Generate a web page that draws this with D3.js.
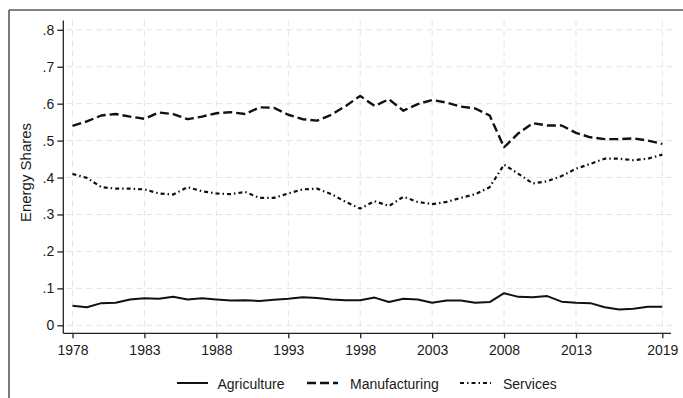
<!DOCTYPE html>
<html>
<head>
<meta charset="utf-8">
<script src="https://cdn.jsdelivr.net/npm/d3@7/dist/d3.min.js"></script>
<style>
  html, body { margin: 0; padding: 0; background: #fff; }
  svg { display: block; font-family: "Liberation Sans", Arial, sans-serif; }
</style>
</head>
<body>
<svg id="chart" width="683" height="398"></svg>
<script>
// Energy shares by sector, 1978-2019
const years = [1978, 1979, 1980, 1981, 1982, 1983, 1984, 1985, 1986, 1987,
  1988, 1989, 1990, 1991, 1992, 1993, 1994, 1995, 1996, 1997,
  1998, 1999, 2000, 2001, 2002, 2003, 2004, 2005, 2006, 2007,
  2008, 2009, 2010, 2011, 2012, 2013, 2014, 2015, 2016, 2017,
  2018, 2019];

const agriculture = [0.053, 0.049, 0.060, 0.061, 0.070, 0.073, 0.072, 0.077, 0.070, 0.073,
  0.070, 0.067, 0.068, 0.066, 0.069, 0.072, 0.076, 0.074, 0.070, 0.068,
  0.068, 0.075, 0.063, 0.072, 0.070, 0.061, 0.067, 0.067, 0.061, 0.063,
  0.087, 0.077, 0.076, 0.079, 0.064, 0.061, 0.060, 0.049, 0.043, 0.045,
  0.050, 0.050];

const manufacturing = [0.540, 0.552, 0.568, 0.572, 0.565, 0.559, 0.576, 0.572, 0.558, 0.565,
  0.574, 0.577, 0.572, 0.590, 0.589, 0.570, 0.558, 0.554, 0.570, 0.594,
  0.621, 0.594, 0.612, 0.581, 0.599, 0.610, 0.603, 0.592, 0.587, 0.568,
  0.482, 0.520, 0.547, 0.541, 0.541, 0.521, 0.509, 0.504, 0.504, 0.506,
  0.500, 0.491];

const services = [0.410, 0.399, 0.374, 0.370, 0.370, 0.368, 0.357, 0.354, 0.374, 0.363,
  0.357, 0.355, 0.361, 0.345, 0.345, 0.357, 0.368, 0.370, 0.355, 0.334,
  0.316, 0.336, 0.323, 0.348, 0.334, 0.328, 0.334, 0.345, 0.355, 0.374,
  0.435, 0.410, 0.384, 0.390, 0.404, 0.424, 0.437, 0.451, 0.451, 0.447,
  0.451, 0.462];

const xTickYears = [1978, 1983, 1988, 1993, 1998, 2003, 2008, 2013, 2019];
const yTickValues = [0, 0.1, 0.2, 0.3, 0.4, 0.5, 0.6, 0.7, 0.8];
const yTickLabels = ["0", ".1", ".2", ".3", ".4", ".5", ".6", ".7", ".8"];

const seriesNames = ["Agriculture", "Manufacturing", "Services"];
const seriesData = [agriculture, manufacturing, services];
const seriesDash = [null, "9,4", "4,3,1.5,3"];
const seriesWidth = [2, 2.4, 2.2];

const svg = d3.select("#chart");
const W = 683, H = 398;

// plot region (axes sit slightly outside the data range)
const plot = { left: 63.3, right: 671, top: 20.5, bottom: 333.3 };

const x = d3.scaleLinear().domain([1978, 2019]).range([72.5, 662.3]);
const y = d3.scaleLinear().domain([0, 0.8]).range([325.3, 29.8]);

// outer frame: top and left edges
svg.append("line").attr("x1", 9).attr("x2", W).attr("y1", 10).attr("y2", 10)
  .attr("stroke", "#5a5a5a").attr("stroke-width", 1.6);
svg.append("line").attr("x1", 9).attr("x2", 9).attr("y1", 10).attr("y2", H)
  .attr("stroke", "#5a5a5a").attr("stroke-width", 1.6);

// gridlines
const grid = svg.append("g").attr("stroke", "#e4e4e4").attr("stroke-width", 1)
  .attr("stroke-dasharray", "6,4").attr("fill", "none");
yTickValues.forEach(v => {
  grid.append("line").attr("x1", plot.left + 3).attr("x2", plot.right + 2)
    .attr("y1", y(v)).attr("y2", y(v));
});
xTickYears.forEach(yr => {
  grid.append("line").attr("x1", x(yr)).attr("x2", x(yr))
    .attr("y1", plot.top).attr("y2", plot.bottom);
});

// y axis
const yAxis = d3.axisLeft(y).tickValues(yTickValues)
  .tickFormat((d, i) => yTickLabels[i]).tickSize(6).tickPadding(3).tickSizeOuter(0);
const gy = svg.append("g").attr("transform", `translate(${plot.left},0)`).call(yAxis);
gy.select(".domain").remove();
gy.append("line").attr("x1", 0).attr("x2", 0).attr("y1", plot.top).attr("y2", plot.bottom)
  .attr("stroke", "#222").attr("stroke-width", 1.3);
gy.selectAll(".tick line").attr("stroke", "#222").attr("stroke-width", 1.3);
gy.selectAll(".tick text").attr("font-size", 14).attr("fill", "#1a1a1a")
  .attr("font-family", "Liberation Sans, Arial, sans-serif");

// x axis
const xAxis = d3.axisBottom(x).tickValues(xTickYears)
  .tickFormat(d => String(d)).tickSize(5).tickPadding(7).tickSizeOuter(0);
const gx = svg.append("g").attr("transform", `translate(0,${plot.bottom})`).call(xAxis);
gx.select(".domain").remove();
gx.append("line").attr("x1", plot.left).attr("x2", plot.right).attr("y1", 0).attr("y2", 0)
  .attr("stroke", "#222").attr("stroke-width", 1.3);
gx.selectAll(".tick line").attr("stroke", "#222").attr("stroke-width", 1.3);
gx.selectAll(".tick text").attr("font-size", 14).attr("fill", "#1a1a1a")
  .attr("font-family", "Liberation Sans, Arial, sans-serif");

// y axis title
svg.append("text")
  .attr("transform", `translate(31,172.5) rotate(-90)`)
  .attr("text-anchor", "middle")
  .attr("font-size", 15).attr("fill", "#1a1a1a")
  .text("Energy Shares");

// series lines
const line = d3.line().x((d, i) => x(years[i])).y(d => y(d));
seriesData.forEach((data, k) => {
  svg.append("path").datum(data)
    .attr("d", line)
    .attr("fill", "none")
    .attr("stroke", "#111")
    .attr("stroke-width", seriesWidth[k])
    .attr("stroke-linejoin", "round")
    .attr("stroke-dasharray", seriesDash[k]);
});

// legend
const legendItems = [
  { sx: 177, tx: 217.5 },
  { sx: 307, tx: 350 },
  { sx: 460, tx: 503 }
];
const legendY = 383;
legendItems.forEach((it, k) => {
  svg.append("line").attr("x1", it.sx).attr("x2", it.sx + 31)
    .attr("y1", legendY).attr("y2", legendY)
    .attr("stroke", "#111").attr("stroke-width", seriesWidth[k])
    .attr("stroke-dasharray", seriesDash[k]);
  svg.append("text").attr("x", it.tx).attr("y", legendY + 6)
    .attr("font-size", 14).attr("fill", "#1a1a1a")
    .text(seriesNames[k]);
});
</script>
</body>
</html>
